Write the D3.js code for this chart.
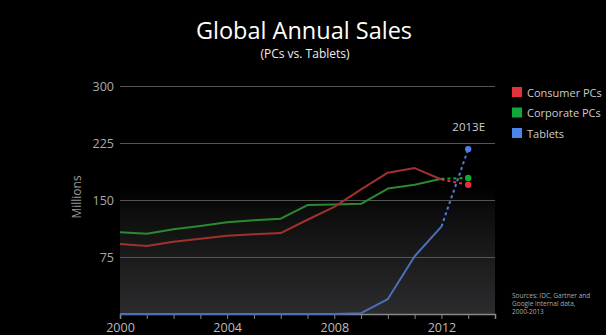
<!DOCTYPE html>
<html><head><meta charset="utf-8">
<script src="https://cdn.jsdelivr.net/npm/d3@7"></script>
<style>html,body{margin:0;padding:0;background:#000;}svg{display:block;font-family:"Open Sans",sans-serif;}</style>
</head><body>
<script>
const years = [2000,2001,2002,2003,2004,2005,2006,2007,2008,2009,2010,2011,2012];
const consumerPCs = [92,89.5,95,99,103,105,106.5,124,141,164,186,192,177];
const corporatePCs = [107.5,105.7,111.4,115.8,120.6,123.3,125.4,143.4,144,145,165,170,178];
const tablets = [0,0,0,0,0,0,0,0,0,1,19.7,76,115];
const estimateYear = 2013;
const estimates = [170,179,217]; // consumer, corporate, tablets
const seriesNames = ["Consumer PCs","Corporate PCs","Tablets"];
const lineColors = ["#a2302e","#2a8a2e","#4a70b5"];
const dotColors = ["#e0303a","#12a838","#4a7fe0"];
const legendColors = ["#e3323b","#10a838","#4a86e8"];
const yTicks = [75,150,225,300];
const xTicks = [2000,2004,2008,2012];
const sources = ["Sources: IDC, Gartner and","Google internal data,","2000-2013"];

const W=606,H=335;
const svg=d3.select("body").append("svg").attr("width",W).attr("height",H);
svg.append("rect").attr("width",W).attr("height",H).attr("fill","#000");

const x=d3.scaleLinear().domain([2000,2014]).range([120,495]);
const y=d3.scaleLinear().domain([0,300]).range([314,86]);

const defs=svg.append("defs");
const g=defs.append("linearGradient").attr("id","bg").attr("x1",0).attr("y1",0).attr("x2",0).attr("y2",1);
g.append("stop").attr("offset","0").attr("stop-color","#000");
g.append("stop").attr("offset","0.45").attr("stop-color","#000");
g.append("stop").attr("offset","0.55").attr("stop-color","#0d0d0e");
g.append("stop").attr("offset","1").attr("stop-color","#2c2c2e");
svg.append("rect").attr("x",x(2000)).attr("y",y(300)).attr("width",x(2014)-x(2000)).attr("height",y(0)-y(300)).attr("fill","url(#bg)");

// title
svg.append("text").attr("x",304).attr("y",39).attr("text-anchor","middle").attr("fill","#fff").attr("font-size",23.5).text("Global Annual Sales");
svg.append("text").attr("x",305).attr("y",58).attr("text-anchor","middle").attr("fill","#eee").attr("font-size",12).text("(PCs vs. Tablets)");

// gridlines + y labels
const yAxis=d3.axisLeft(y).tickValues(yTicks).tickSize(-(x(2014)-x(2000))).tickPadding(6).tickFormat(d3.format("d"));
const ya=svg.append("g").attr("transform",`translate(${x(2000)},0)`).call(yAxis);
ya.select(".domain").remove();
ya.selectAll(".tick line").attr("stroke","#555").attr("stroke-width",1);
ya.selectAll(".tick text").attr("fill","#aaa").attr("font-size",12.5).attr("font-family","Open Sans, sans-serif");

svg.append("text").attr("transform","translate(81,197) rotate(-90)").attr("text-anchor","middle").attr("fill","#999").attr("font-size",12).text("Millions");

// x axis
const xAxis=d3.axisBottom(x).tickValues(d3.range(2000,2015)).tickSize(5).tickFormat(d=>xTicks.includes(d)?d:"");
const xa=svg.append("g").attr("transform",`translate(0,${y(0)})`).call(xAxis);
xa.select(".domain").attr("stroke","#888").attr("stroke-width",1.5);
xa.selectAll(".tick line").attr("stroke","#888");
xa.selectAll(".tick text").attr("fill","#bbb").attr("font-size",12.5).attr("font-family","Open Sans, sans-serif").attr("dy","0.82em");

const data=[consumerPCs,corporatePCs,tablets];
const line=d3.line().x((d,i)=>x(years[i])).y(d=>y(d));
[1,0,2].forEach(k=>{
  svg.append("path").datum(data[k]).attr("d",line).attr("fill","none").attr("stroke",lineColors[k]).attr("stroke-width",2).attr("stroke-linejoin","round");
});
[1,0,2].forEach(k=>{
  const last=data[k][data[k].length-1];
  svg.append("line").attr("x1",x(2012)).attr("y1",y(last)).attr("x2",x(estimateYear)).attr("y2",y(estimates[k]))
    .attr("stroke",dotColors[k]).attr("stroke-width",2).attr("stroke-dasharray","3,3");
  svg.append("circle").attr("cx",x(estimateYear)).attr("cy",y(estimates[k])).attr("r",3.2).attr("fill",dotColors[k]);
});
svg.append("text").attr("x",x(estimateYear)+0.5).attr("y",131).attr("text-anchor","middle").attr("fill","#ccc").attr("font-size",11.5).text("2013E");

// legend
seriesNames.forEach((n,i)=>{
  const ly=87+i*20.5;
  svg.append("rect").attr("x",512).attr("y",ly).attr("width",10).attr("height",10).attr("fill",legendColors[i]);
  svg.append("text").attr("x",527).attr("y",ly+9.5).attr("fill","#ccc").attr("font-size",11).text(n);
});

// sources
sources.forEach((s,i)=>{
  svg.append("text").attr("x",512).attr("y",298+i*8.2).attr("fill","#aaa").attr("font-size",6.5).text(s);
});
</script>
</body></html>
